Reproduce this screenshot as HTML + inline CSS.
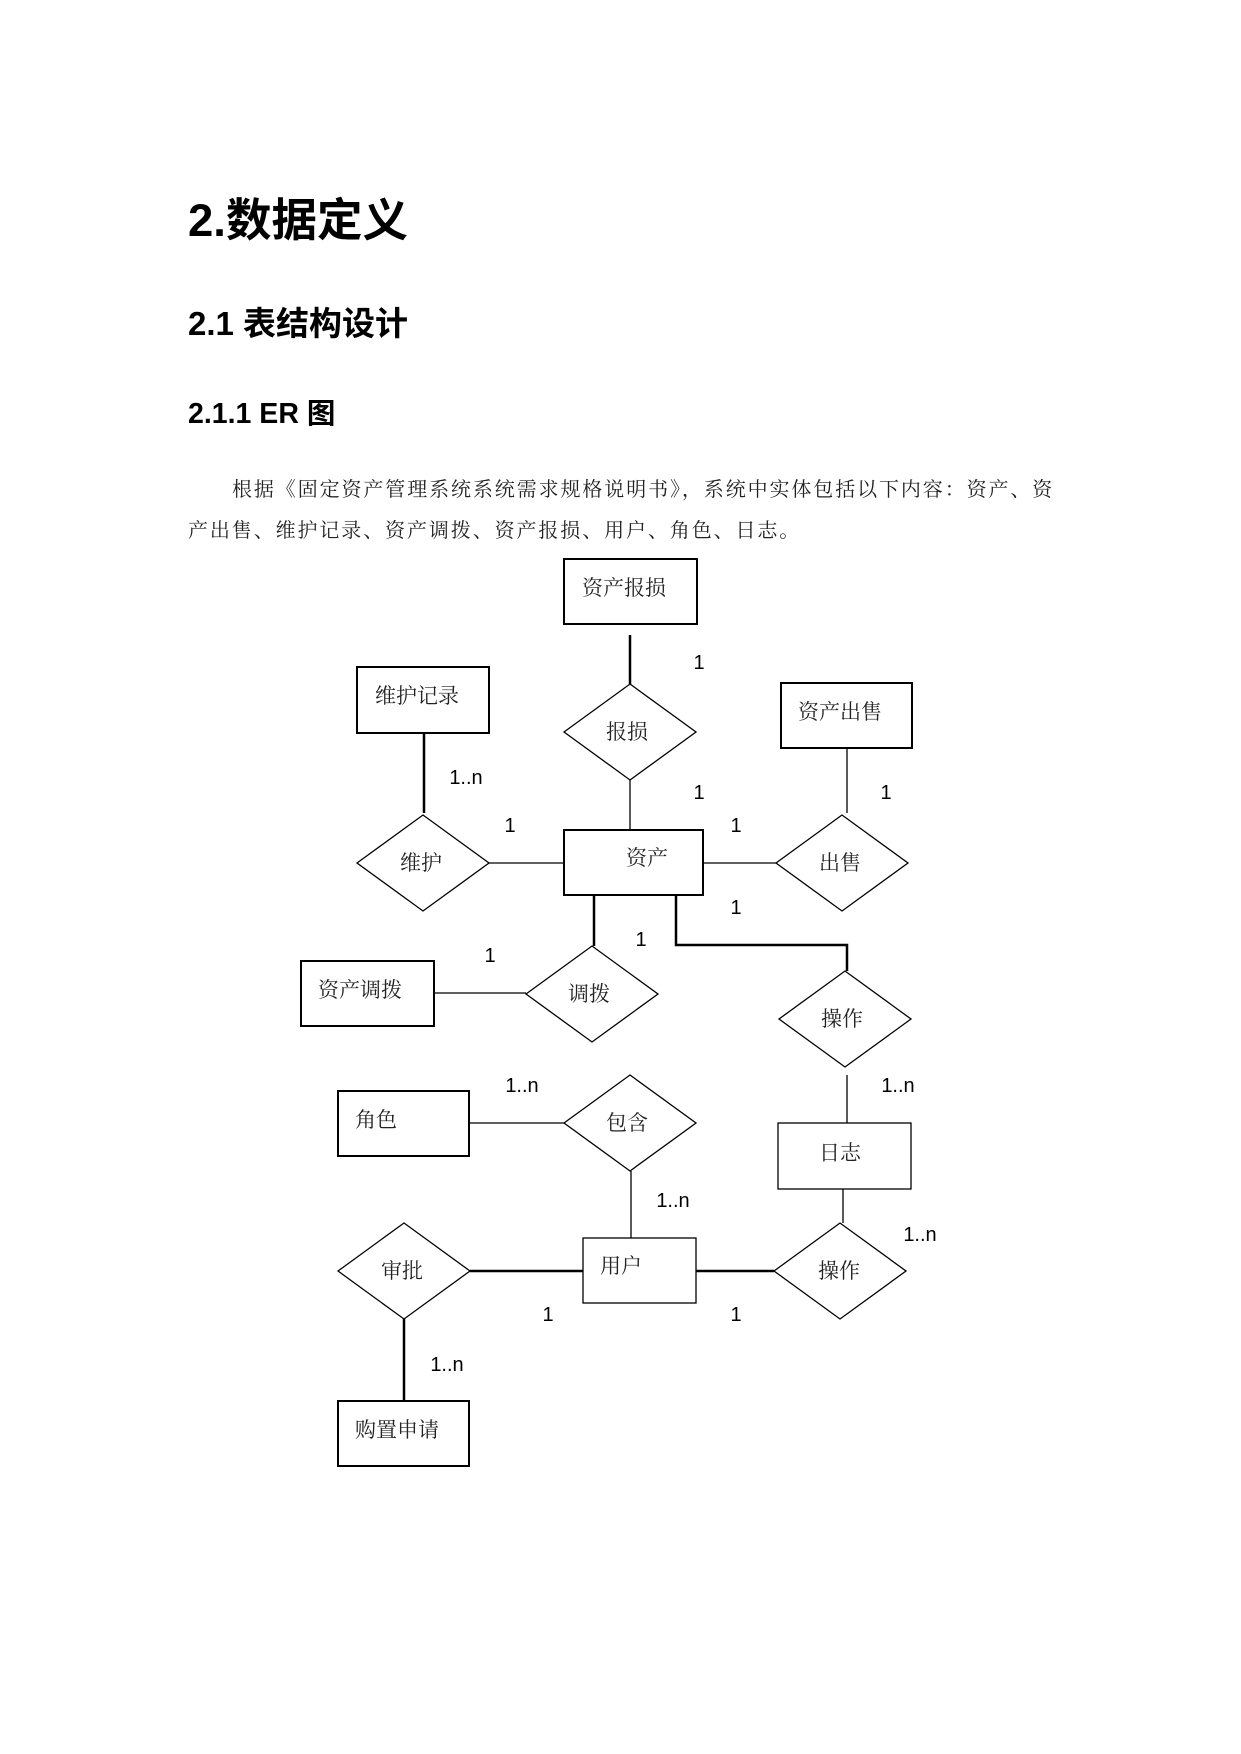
<!DOCTYPE html>
<html><head><meta charset="utf-8"><style>
html,body{margin:0;padding:0;background:#fff;}
body{width:1241px;height:1754px;position:relative;overflow:hidden;}
.h{position:absolute;font-family:"Liberation Sans","Noto Sans CJK SC",sans-serif;font-weight:bold;color:#000;white-space:nowrap;margin:0;}
.p{position:absolute;font-family:"Liberation Serif","Noto Serif CJK SC",serif;font-size:20px;color:#222;white-space:nowrap;letter-spacing:1.9px;}
svg{position:absolute;left:0;top:-3px;}
svg text{font-family:"Liberation Serif","Noto Serif CJK SC",serif;font-size:21px;fill:#222;dominant-baseline:central;}
svg text.n{font-family:"Liberation Sans",sans-serif;font-size:20px;fill:#000;text-anchor:middle;}
</style></head><body>
<div class="h" style="left:188px;top:184px;font-size:45.5px;">2.数据定义</div>
<div class="h" style="left:188px;top:297px;font-size:33px;">2.1 表结构设计</div>
<div class="h" style="left:188px;top:391px;font-size:28.5px;">2.1.1 ER 图</div>
<div class="p" style="left:232px;top:473px;">根据《固定资产管理系统系统需求规格说明书》，系统中实体包括以下内容：资产、资</div>
<div class="p" style="left:188px;top:514px;">产出售、维护记录、资产调拨、资产报损、用户、角色、日志。</div>
<svg width="1241" height="1754" viewBox="0 0 1241 1754">
<g fill="none" stroke="#000">
<g stroke-width="2">
<rect x="564" y="562" width="133" height="65"/>
<rect x="357" y="670" width="132" height="66"/>
<rect x="781" y="686" width="131" height="65"/>
<rect x="564" y="833" width="139" height="65"/>
<rect x="301" y="964" width="133" height="65"/>
<rect x="338" y="1094" width="131" height="65"/>
<rect x="338" y="1404" width="131" height="65"/>
</g>
<g stroke-width="1.3">
<rect x="778" y="1126" width="133" height="66"/>
<rect x="583" y="1241" width="113" height="65"/>
<polygon points="564,735 630,687 696,735 630,783"/>
<polygon points="357,866 423,818 489,866 423,914"/>
<polygon points="776,866 842,818 908,866 842,914"/>
<polygon points="526,997 592,949 658,997 592,1045"/>
<polygon points="779,1022 845,974 911,1022 845,1070"/>
<polygon points="564,1126 630,1078 696,1126 630,1174"/>
<polygon points="338,1274 404,1226 470,1274 404,1322"/>
<polygon points="774,1274 840,1226 906,1274 840,1322"/>
<line x1="630" y1="783" x2="630" y2="833"/>
<line x1="489" y1="866" x2="564" y2="866"/>
<line x1="703" y1="866" x2="776" y2="866"/>
<line x1="847" y1="751" x2="847" y2="816"/>
<line x1="434" y1="996" x2="526" y2="996"/>
<line x1="847" y1="1078" x2="847" y2="1126"/>
<line x1="469" y1="1126" x2="564" y2="1126"/>
<line x1="631" y1="1174" x2="631" y2="1241"/>
<line x1="843" y1="1192" x2="843" y2="1226"/>
</g>
<g stroke-width="2.5">
<line x1="630" y1="638" x2="630" y2="687"/>
<line x1="424" y1="736" x2="424" y2="816"/>
<line x1="594" y1="898" x2="594" y2="949"/>
<polyline points="676,898 676,948 847,948 847,974"/>
<line x1="470" y1="1274" x2="583" y2="1274"/>
<line x1="696" y1="1274" x2="774" y2="1274"/>
<line x1="404" y1="1322" x2="404" y2="1404"/>
</g>
</g>
<text x="582" y="591">资产报损</text>
<text x="375" y="699">维护记录</text>
<text x="798" y="715">资产出售</text>
<text x="626" y="861">资产</text>
<text x="318" y="993">资产调拨</text>
<text x="355" y="1123">角色</text>
<text x="819" y="1156">日志</text>
<text x="600" y="1269">用户</text>
<text x="355" y="1433">购置申请</text>
<text x="606" y="735">报损</text>
<text x="400" y="866">维护</text>
<text x="819" y="866">出售</text>
<text x="568" y="997">调拨</text>
<text x="821" y="1022">操作</text>
<text x="606" y="1126">包含</text>
<text x="381" y="1274">审批</text>
<text x="818" y="1274">操作</text>
<g>
<text class="n" x="699" y="666">1</text>
<text class="n" x="466" y="781">1..n</text>
<text class="n" x="699" y="796">1</text>
<text class="n" x="886" y="796">1</text>
<text class="n" x="510" y="829">1</text>
<text class="n" x="736" y="829">1</text>
<text class="n" x="736" y="911">1</text>
<text class="n" x="490" y="959">1</text>
<text class="n" x="641" y="943">1</text>
<text class="n" x="522" y="1089">1..n</text>
<text class="n" x="898" y="1089">1..n</text>
<text class="n" x="673" y="1204">1..n</text>
<text class="n" x="920" y="1238">1..n</text>
<text class="n" x="548" y="1318">1</text>
<text class="n" x="736" y="1318">1</text>
<text class="n" x="447" y="1368">1..n</text>
</g>
</svg>
</body></html>
